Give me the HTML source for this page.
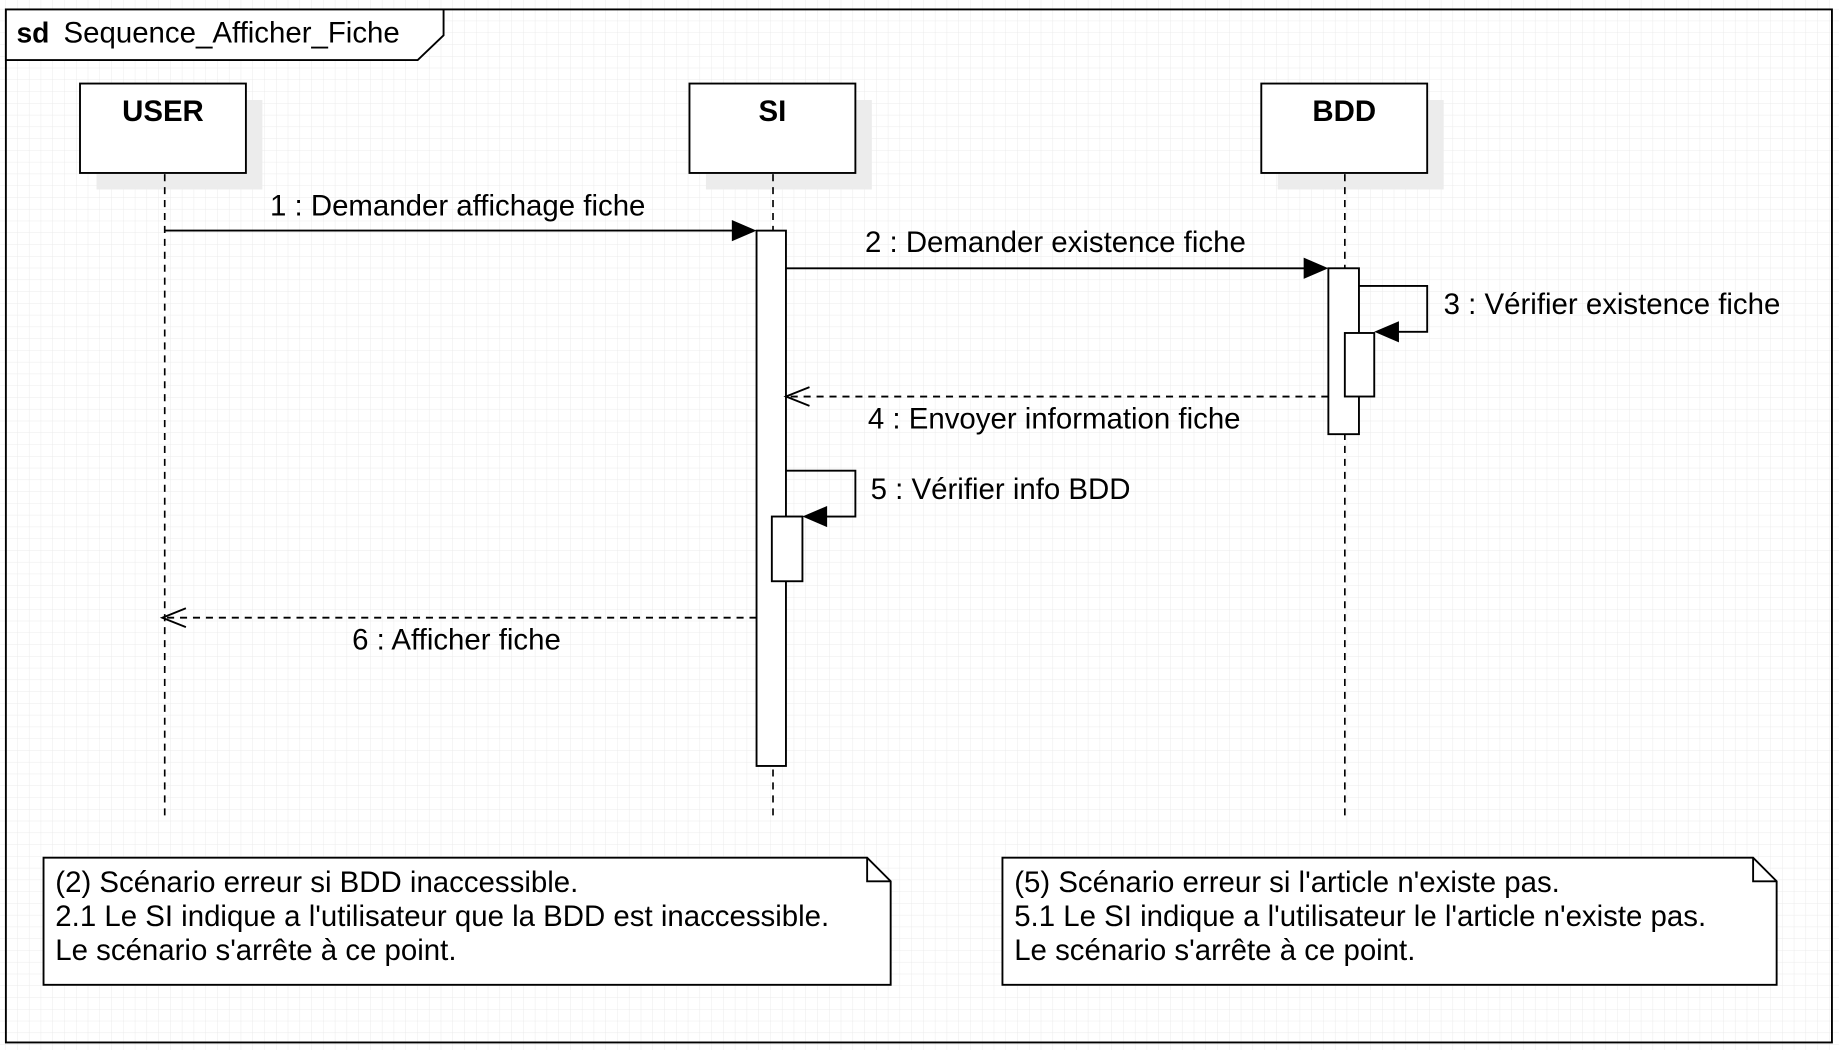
<!DOCTYPE html>
<html><head><meta charset="utf-8"><style>
html,body{margin:0;padding:0;background:#fff;}
svg{display:block;}
text{font-family:"Liberation Sans",Arial,sans-serif;fill:#000;}
</style></head><body>
<svg width="1839" height="1050" viewBox="0 0 1563 892.4" xmlns="http://www.w3.org/2000/svg">
<defs>
<pattern id="g" width="10" height="10" patternUnits="userSpaceOnUse" x="5" y="8">
<path d="M10 0V10M0 10H10" fill="none" stroke="#ebebeb" stroke-width="0.8"/>
</pattern>
</defs>
<rect x="0" y="0" width="1563" height="893" fill="#fff"/>
<rect x="0" y="0" width="1563" height="893" fill="url(#g)"/>
<rect x="5" y="8" width="1552" height="878" fill="none" stroke="#000" stroke-width="1.6"/>
<path d="M5 8H377V30L355 51H5Z" fill="#fff" stroke="#000" stroke-width="1.6"/>
<text x="14" y="36" font-size="24" font-weight="bold">sd</text>
<text x="54" y="36" font-size="25">Sequence_Afficher_Fiche</text>

<g fill="#ececec">
<rect x="82" y="85" width="141" height="76"/>
<rect x="600" y="85" width="141" height="76"/>
<rect x="1086" y="85" width="141" height="76"/>
</g>
<g fill="#fff" stroke="#000" stroke-width="1.6">
<rect x="68" y="71" width="141" height="76"/>
<rect x="586" y="71" width="141" height="76"/>
<rect x="1072" y="71" width="141" height="76"/>
</g>
<g font-size="25" font-weight="bold" text-anchor="middle">
<text x="138.5" y="103">USER</text>
<text x="656.5" y="103">SI</text>
<text x="1142.5" y="103">BDD</text>
</g>
<g stroke="#000" stroke-width="1.4" stroke-dasharray="6,5">
<line x1="140" y1="148" x2="140" y2="695"/>
<line x1="657" y1="148" x2="657" y2="695"/>
<line x1="1143" y1="148" x2="1143" y2="695"/>
</g>
<g fill="#fff" stroke="#000" stroke-width="1.6">
<rect x="643" y="196" width="25" height="455"/>
<rect x="656" y="439" width="26" height="55"/>
<rect x="1129" y="228" width="26" height="141"/>
<rect x="1143" y="283" width="25" height="54"/>
</g>
<g stroke="#000" stroke-width="1.6" fill="none">
<line x1="140" y1="196" x2="624" y2="196"/>
<line x1="668" y1="228" x2="1110" y2="228"/>
<polyline points="1155,243 1213,243 1213,282 1186,282"/>
<polyline points="668,400 727,400 727,439 700,439"/>
<line x1="1129" y1="337" x2="670" y2="337" stroke-dasharray="6,5"/>
<polyline points="688,329 668,337 688,345"/>
<line x1="643" y1="525" x2="140" y2="525" stroke-dasharray="6,5"/>
<polyline points="158,517 138,525 158,533"/>
</g>
<g fill="#000">
<path d="M643 196L622 187V205Z"/>
<path d="M1129 228L1108 219V237Z"/>
<path d="M1168 282L1189 273V291Z"/>
<path d="M682 439L703 430V448Z"/>
</g>
<g font-size="25">
<text x="389" y="183" text-anchor="middle">1 : Demander affichage fiche</text>
<text x="897" y="214" text-anchor="middle">2 : Demander existence fiche</text>
<text x="1227" y="267">3 : Vérifier existence fiche</text>
<text x="896" y="364" text-anchor="middle">4 : Envoyer information fiche</text>
<text x="740" y="424">5 : Vérifier info BDD</text>
<text x="388" y="552" text-anchor="middle">6 : Afficher fiche</text>
</g>
<g fill="#fff" stroke="#000" stroke-width="1.6">
<path d="M37 729H737L757 749V837H37Z"/>
<path d="M737 729V749H757" fill="none"/>
<path d="M852 729H1490L1510 749V837H852Z"/>
<path d="M1490 729V749H1510" fill="none"/>
</g>
<g font-size="25">
<text x="47" y="758">(2) Scénario erreur si BDD inaccessible.</text>
<text x="47" y="787">2.1 Le SI indique a l'utilisateur que la BDD est inaccessible.</text>
<text x="47" y="816">Le scénario s'arrête à ce point.</text>
<text x="862" y="758">(5) Scénario erreur si l'article n'existe pas.</text>
<text x="862" y="787">5.1 Le SI indique a l'utilisateur le l'article n'existe pas.</text>
<text x="862" y="816">Le scénario s'arrête à ce point.</text>
</g>
</svg>
</body></html>
